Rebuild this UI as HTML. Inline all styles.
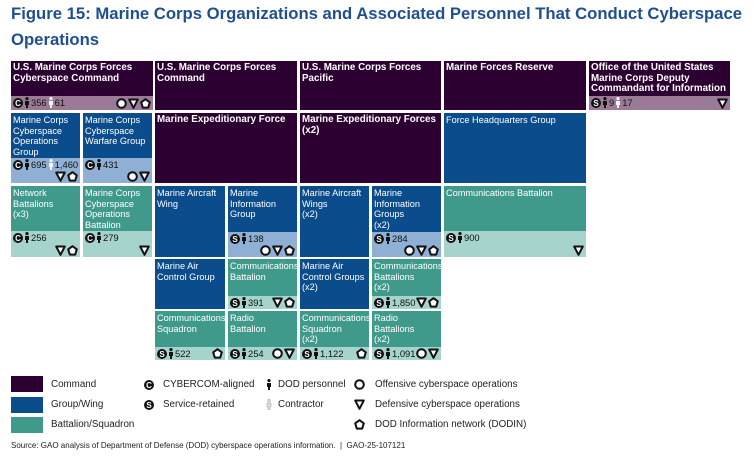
<!DOCTYPE html>
<html><head><meta charset="utf-8"><style>
body{margin:0;width:754px;height:456px;background:#fff;font-family:"Liberation Sans",sans-serif;position:relative;overflow:hidden}
.t{position:absolute;left:11px;color:#1f4f8f;font-weight:bold;font-size:16.7px}
.box{position:absolute;box-sizing:border-box;overflow:hidden}
.ttl{position:absolute;left:2px;top:2px;font-size:9.2px;line-height:10.7px;color:#fff;white-space:nowrap}
.cmd .ttl{font-weight:bold;font-size:9.8px}
.strip{position:absolute;left:0;right:0;bottom:0}
.row1{position:absolute;left:2px;top:1px;font-size:9.4px;line-height:11px;color:#111;display:flex;align-items:center;gap:1px;white-space:nowrap}
.shp{position:absolute;right:2px;bottom:1px;display:flex;gap:1px}
.lg{position:absolute;font-size:9.8px;color:#222;white-space:nowrap}
.sw{position:absolute;left:11px;width:32px;height:16px}
svg{display:block}
</style></head><body>
<div class="t" style="top:4px">Figure 15: Marine Corps Organizations and Associated Personnel That Conduct Cyberspace</div>
<div class="t" style="top:30px">Operations</div>
<div id="chart"></div>

<div class="sw" style="top:376px;background:#2d0032"></div>
<div class="sw" style="top:397px;background:#0b4c8c"></div>
<div class="sw" style="top:417px;background:#3f9a8c"></div>
<div class="lg" style="left:51px;top:379px">Command</div>
<div class="lg" style="left:51px;top:399px">Group/Wing</div>
<div class="lg" style="left:51px;top:419px">Battalion/Squadron</div>
<div class="lg" style="left:144px;top:379px;display:flex;gap:9px;align-items:center"><span class="ic-c"></span>CYBERCOM-aligned</div>
<div class="lg" style="left:144px;top:399px;display:flex;gap:9px;align-items:center"><span class="ic-s"></span>Service-retained</div>
<div class="lg" style="left:266px;top:379px;display:flex;gap:6px;align-items:center"><span class="ic-p"></span>DOD personnel</div>
<div class="lg" style="left:266px;top:399px;display:flex;gap:6px;align-items:center"><span class="ic-q"></span>Contractor</div>
<div class="lg" style="left:354px;top:379px;display:flex;gap:10px;align-items:center"><span class="ic-o"></span>Offensive cyberspace operations</div>
<div class="lg" style="left:354px;top:399px;display:flex;gap:10px;align-items:center"><span class="ic-v"></span>Defensive cyberspace operations</div>
<div class="lg" style="left:354px;top:419px;display:flex;gap:10px;align-items:center"><span class="ic-g"></span>DOD Information network (DODIN)</div>
<div class="lg" style="left:11px;top:441px;font-size:8px">Source: GAO analysis of Department of Defense (DOD) cyberspace operations information.&nbsp; |&nbsp; GAO-25-107121</div>

<script>
var IC={
c:'<svg width="10" height="10" viewBox="0 0 10 10"><circle cx="5" cy="5" r="5" fill="#111"/><text x="5" y="8" font-size="8" font-weight="bold" fill="#fff" text-anchor="middle" font-family="Liberation Sans">C</text></svg>',
s:'<svg width="10" height="10" viewBox="0 0 10 10"><circle cx="5" cy="5" r="5" fill="#111"/><text x="5" y="8" font-size="8" font-weight="bold" fill="#fff" text-anchor="middle" font-family="Liberation Sans">S</text></svg>',
p:'<svg width="6" height="11" viewBox="0 0 6 11"><circle cx="3" cy="1.6" r="1.6" fill="#111"/><path d="M1 4h4v4H4v3H2V8H1z" fill="#111"/></svg>',
k:'<svg width="6" height="11" viewBox="0 0 6 11"><circle cx="3" cy="1.6" r="1.6" fill="#f4f4f4"/><path d="M1 4h4v4H4v3H2V8H1z" fill="#f4f4f4"/></svg>',
q:'<svg width="6" height="11" viewBox="0 0 6 11"><circle cx="3" cy="1.6" r="1.4" fill="#ddd" stroke="#999" stroke-width="0.5"/><path d="M1 4h4v4H4v3H2V8H1z" fill="#ddd" stroke="#999" stroke-width="0.5"/></svg>',
o:'<svg width="11" height="11" viewBox="0 0 11 11"><circle cx="5.5" cy="5.5" r="4.3" fill="#fff" stroke="#111" stroke-width="2"/></svg>',
v:'<svg width="11" height="11" viewBox="0 0 11 11"><path d="M1.2 1.5h8.6L5.5 9.8z" fill="#fff" stroke="#111" stroke-width="2" stroke-linejoin="round"/></svg>',
g:'<svg width="11" height="11" viewBox="0 0 11 11"><path d="M5.5 1.2L9.8 4.3 8.2 9.6H2.8L1.2 4.3z" fill="#fff" stroke="#111" stroke-width="2" stroke-linejoin="round"/></svg>'
};
document.querySelectorAll('[class^="ic-"]').forEach(function(e){e.innerHTML=IC[e.className.slice(3)];});
var COL={cmd:['#2d0032','#9a7a97'],blue:['#0b4c8c','#8fb0d4'],teal:['#3f9a8c','#a6d4cc']};
var boxes=[
[11,61,142,49,'cmd','U.S. Marine Corps Forces<br>Cyberspace Command',14,'c','356','61','ovg',1,'marforcyber'],
[155,61,142,49,'cmd','U.S. Marine Corps Forces<br>Command',0,'','','','',0,'marforcom'],
[300,61,141,49,'cmd','U.S. Marine Corps Forces<br>Pacific',0,'','','','',0,'marforpac'],
[444,61,142,49,'cmd','Marine Forces Reserve',0,'','','','',0,'marforres'],
[589,61,141,49,'cmd','Office of the United States<br>Marine Corps Deputy<br>Commandant for Information',14,'s','9','17','v',1,'dc-information'],
[11,113,69,70,'blue','Marine Corps<br>Cyberspace<br>Operations<br>Group',25,'c','695','1,460','vg',0,'mccyog'],
[83,113,69,70,'blue','Marine Corps<br>Cyberspace<br>Warfare Group',25,'c','431','','ov',0,'mccwg'],
[155,113,142,70,'cmd','Marine Expeditionary Force',0,'','','','',0,'mef'],
[300,113,141,70,'cmd','Marine Expeditionary Forces<br>(x2)',0,'','','','',0,'mef-x2'],
[444,113,142,70,'blue','Force Headquarters Group',0,'','','','',0,'fhg'],
[11,186,69,71,'teal','Network<br>Battalions<br>(x3)',26,'c','256','','vg',0,'network-battalions'],
[83,186,69,71,'teal','Marine Corps<br>Cyberspace<br>Operations<br>Battalion',26,'c','279','','v',0,'mccob'],
[155,186,70,71,'blue','Marine Aircraft<br>Wing',0,'','','','',0,'maw'],
[228,186,69,71,'blue','Marine<br>Information<br>Group',25,'s','138','','ovg',0,'mig'],
[300,186,69,71,'blue','Marine Aircraft<br>Wings<br>(x2)',0,'','','','',0,'maw-x2'],
[372,186,69,71,'blue','Marine<br>Information<br>Groups<br>(x2)',25,'s','284','','ovg',0,'mig-x2'],
[444,186,142,71,'teal','Communications Battalion',26,'s','900','','v',0,'comm-battalion-res'],
[155,259,70,50,'blue','Marine Air<br>Control Group',0,'','','','',0,'macg'],
[228,259,69,50,'teal','Communications<br>Battalion',13,'s','391','','vg',1,'comm-battalion'],
[300,259,69,50,'blue','Marine Air<br>Control Groups<br>(x2)',0,'','','','',0,'macg-x2'],
[372,259,69,50,'teal','Communications<br>Battalions<br>(x2)',13,'s','1,850','','vg',1,'comm-battalions-x2'],
[155,311,70,49,'teal','Communications<br>Squadron',13,'s','522','','g',1,'comm-squadron'],
[228,311,69,49,'teal','Radio<br>Battalion',13,'s','254','','ov',1,'radio-battalion'],
[300,311,69,49,'teal','Communications<br>Squadron<br>(x2)',13,'s','1,122','','g',1,'comm-squadron-x2'],
[372,311,69,49,'teal','Radio<br>Battalions<br>(x2)',13,'s','1,091','','ov',1,'radio-battalions-x2']
];
var root=document.getElementById('chart');
boxes.forEach(function(b){
  var d=document.createElement('div');
  
  
  d.className='box '+b[4];
  d.style.cssText='left:'+b[0]+'px;top:'+b[1]+'px;width:'+b[2]+'px;height:'+b[3]+'px;background:'+COL[b[4]][0];
  var h='<div class="ttl">'+b[5]+'</div>';
  if(b[6]){
    var r='<div class="row1">'+IC[b[7]]+IC.p+'<span>'+b[8]+'</span>'+(b[9]?IC.k+'<span>'+b[9]+'</span>':'')+'</div>';
    var s='<div class="shp">'+b[10].split('').map(function(k){return IC[k];}).join('')+'</div>';
    h+='<div class="strip" style="height:'+b[6]+'px;background:'+COL[b[4]][1]+'">'+r+s+'</div>';
  }
  d.innerHTML=h;
  root.appendChild(d);
});
</script>
</body></html>
